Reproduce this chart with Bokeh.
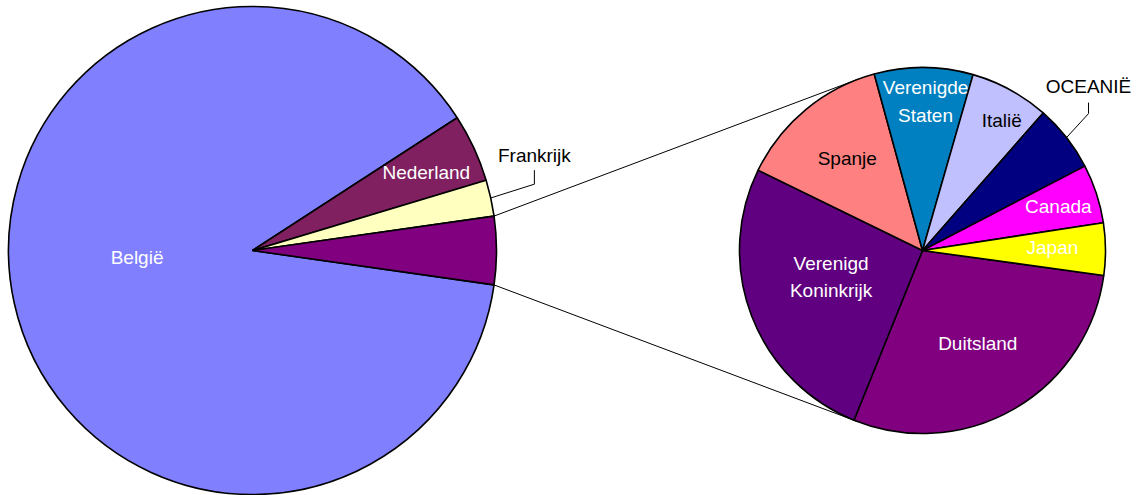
import math
from bokeh.plotting import figure
from bokeh.models import Range1d
from bokeh.core.properties import value
from bokeh.embed import file_html
from bokeh.resources import INLINE

# ---------------- data ----------------
main_labels = ["België", "Nederland", "Frankrijk", "Overige"]
main_values = [88.5, 4.5, 2.4, 4.5]

sub_labels = ["Duitsland", "Verenigd\nKoninkrijk", "Spanje", "Verenigde\nStaten",
              "Italië", "OCEANIË", "Canada", "Japan"]
sub_values = [28.9, 26.1, 13.5, 8.7, 7.0, 5.9, 5.2, 4.6]

# ---------------- styles ----------------
main_colors = ["#8080FF", "#802060", "#FFFFC0", "#800080"]
sub_colors = ["#800080", "#600080", "#FF8080", "#0080C0",
              "#C0C0FF", "#000080", "#FF00FF", "#FFFF00"]
text_color = {"België": "white", "Nederland": "white", "Frankrijk": "black",
              "Duitsland": "white", "Verenigd\nKoninkrijk": "white", "Spanje": "black",
              "Verenigde\nStaten": "white", "Italië": "black", "OCEANIË": "black",
              "Canada": "white", "Japan": "white"}
# inside label placement: (radius fraction, angle offset in degrees from slice middle)
inside_pos = {"België": (0.474, -9.0), "Nederland": (0.78, -0.8),
              "Duitsland": (0.59, 0.7), "Verenigd\nKoninkrijk": (0.52, -4.8),
              "Spanje": (0.65, -0.4), "Verenigde\nStaten": (0.815, -0.8),
              "Italië": (0.83, -2.8), "Canada": (0.78, -0.2), "Japan": (0.71, 1.0)}
# outside labels: elbow offset from slice edge, leader rise, text rise (pixels)
outside_pos = {"Frankrijk": (43.6, 13.8, 14.0, 29.0),
               "OCEANIË": (22.0, 24.0, 11.0, 27.0)}

FONT = value("Liberation Sans")
FSIZE = "19px"
C1 = (252.0, -250.0)
R1 = 244.0
C2 = (922.0, -250.0)
R2 = 183.0
SUB_START = -7.85  # degrees, first sub slice runs clockwise from here

W, H = 1143, 495
p = figure(width=W, height=H, output_backend="svg", toolbar_location=None,
           x_range=Range1d(0, W), y_range=Range1d(-H, 0),
           x_axis_location=None, y_axis_location=None, min_border=0,
           background_fill_color="white", border_fill_color="white")
p.outline_line_color = None
p.grid.visible = False

# ---- main pie angles (ccw, "Overige" centred on 0°) ----
tot1 = sum(main_values)
deg1 = [v / tot1 * 360.0 for v in main_values]
order = list(range(len(main_values)))[::-1]
a = -deg1[-1] / 2.0
main_ang = {}
for i in order:
    main_ang[i] = (a, a + deg1[i])
    a += deg1[i]

# ---- sub pie angles (clockwise from SUB_START) ----
tot2 = sum(sub_values)
deg2 = [v / tot2 * 360.0 for v in sub_values]
sub_ang = []
a = SUB_START
for d in deg2:
    sub_ang.append((a - d, a))
    a -= d

def pol(c, r, ang):
    return c[0] + r * math.cos(math.radians(ang)), c[1] + r * math.sin(math.radians(ang))

# ---- connector (tangent) lines ----
o0, o1 = main_ang[len(main_values) - 1]
for ang, sgn in ((o1, -1), (o0, 1)):
    px, py = pol(C1, R1, ang)
    dx, dy = px - C2[0], py - C2[1]
    d = math.hypot(dx, dy)
    base = math.degrees(math.atan2(dy, dx))
    t = base + sgn * math.degrees(math.acos(R2 / d))
    tx, ty = pol(C2, R2, t)
    p.line([px, tx], [py, ty], line_color="black", line_width=1)

# ---- wedges ----
for i in range(len(main_values)):
    s, e = main_ang[i]
    p.wedge(x=C1[0], y=C1[1], radius=R1, start_angle=math.radians(s), end_angle=math.radians(e),
            fill_color=main_colors[i], line_color="black", line_width=1.6)
for i in range(len(sub_values)):
    s, e = sub_ang[i]
    p.wedge(x=C2[0], y=C2[1], radius=R2, start_angle=math.radians(s), end_angle=math.radians(e),
            fill_color=sub_colors[i], line_color="black", line_width=1.6)

def label(lbl, c, r, s, e):
    mid = (s + e) / 2.0
    if lbl in inside_pos:
        f, off = inside_pos[lbl]
        x, y = pol(c, r * f, mid + off)
        p.text(x=[x], y=[y], text=[lbl], text_align="center", text_baseline="middle",
               text_font=FONT, text_font_size=FSIZE, text_color=text_color[lbl],
               text_line_height=1.32)
    elif lbl in outside_pos:
        ex, ey, rise, trise = outside_pos[lbl]
        x0, y0 = pol(c, r, mid)
        x1, y1 = x0 + ex, y0 + ey
        p.line([x0, x1, x1], [y0, y1, y1 + rise], line_color="black", line_width=1)
        p.text(x=[x1], y=[y1 + trise], text=[lbl], text_align="center", text_baseline="middle",
               text_font=FONT, text_font_size=FSIZE, text_color=text_color[lbl])

for i, lbl in enumerate(main_labels):
    label(lbl, C1, R1, *main_ang[i])
for i, lbl in enumerate(sub_labels):
    label(lbl, C2, R2, *sub_ang[i])

open("out.html", "w").write(file_html(p, INLINE))
